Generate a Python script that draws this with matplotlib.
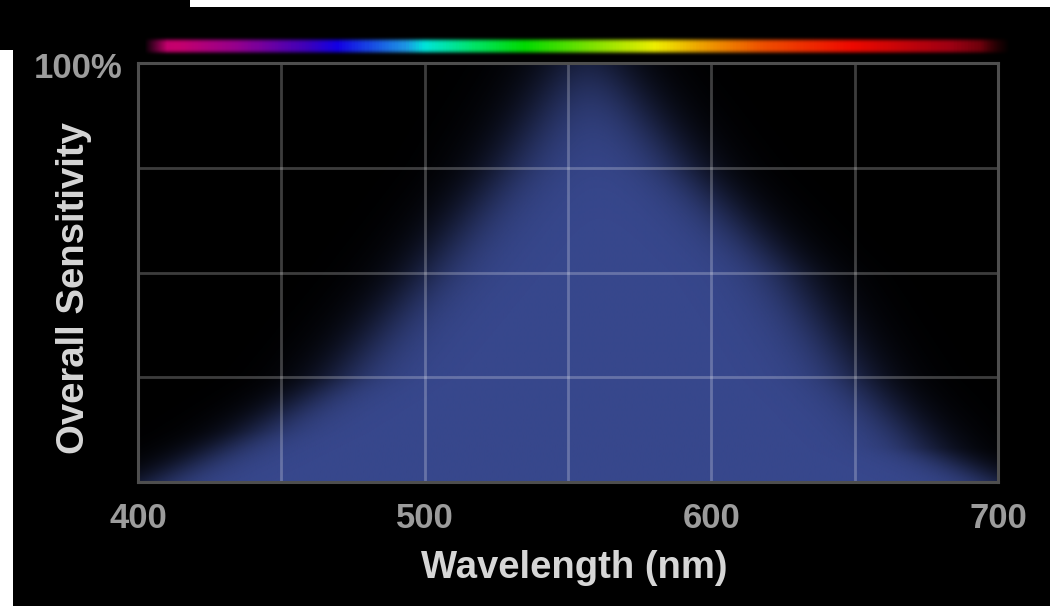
import numpy as np
import matplotlib
matplotlib.use("Agg")
import matplotlib.pyplot as plt
from matplotlib.colors import LinearSegmentedColormap
from matplotlib.patches import Rectangle

# sensitivity curve (edge of the blue glow)
wavelength = [405, 440, 470, 500, 528, 556, 591, 627, 651, 675, 700]
sensitivity = [0.0, 0.12, 0.25, 0.5, 0.75, 1.06, 0.75, 0.5, 0.25, 0.08, 0.0]

# spectrum bar colour stops (nm, colour)
spec_nm = [400, 411, 432, 457, 467, 491, 498, 516, 533, 561, 579, 596, 617, 648, 683, 700]
spec_col = ['#c0006e', '#c8006e', '#960090', '#3c00be', '#1400e6', '#1e96e6', '#00e6dc',
            '#00e664', '#00dc00', '#96e600', '#f0f000', '#f0a000', '#f05000', '#f00a00',
            '#a00014', '#500008']

x_ticks = [400, 500, 600, 700]
x_labels = ['400', '500', '600', '700']

W, H = 1050, 606
fig = plt.figure(figsize=(W / 100, H / 100), dpi=100, facecolor='black')

# main plot area
ax = fig.add_axes([138 / W, 1 - 482 / H, 860 / W, 419 / H])
ax.set_facecolor('black')
ax.set_xlim(400, 700)
ax.set_ylim(0, 1)

# blue glow under the curve
xs = np.linspace(400, 700, 700)
ys = np.linspace(0, 1, 420)
pk = int(np.argmax(sensitivity))
left_wl, left_s = wavelength[:pk + 1], sensitivity[:pk + 1]
right_wl, right_s = wavelength[pk:][::-1], sensitivity[pk:][::-1]
L = np.interp(ys, left_s, left_wl)
R = np.interp(ys, right_s, right_wl)
w = 8.5
X = xs[None, :]
alpha = 1 / (1 + np.exp(-(X - L[:, None]) / w)) * 1 / (1 + np.exp(-(R[:, None] - X) / w))
img = np.zeros((len(ys), len(xs), 4))
img[..., 0] = 56 / 255
img[..., 1] = 72 / 255
img[..., 2] = 142 / 255
img[..., 3] = alpha
ax.imshow(img, extent=[400, 700, 0, 1], origin='lower', aspect='auto', interpolation='bilinear', zorder=1)

# grid
for gx in [450, 500, 550, 600, 650]:
    ax.axvline(gx, color='white', alpha=0.24, lw=2, zorder=2)
for gy in [0.25, 0.5, 0.75]:
    ax.axhline(gy, color='white', alpha=0.24, lw=2, zorder=2)
for sp in ax.spines.values():
    sp.set_color('#4e4e4e')
    sp.set_linewidth(2.2)
ax.set_xticks([])
ax.set_yticks([])

# tick labels and texts
for t, lab in zip(x_ticks, x_labels):
    px = 138 + (t - 400) / 300 * 860
    fig.text(px / W, 1 - 518 / H, lab, color='#9c9c9c', fontsize=25, fontweight='bold',
             family='Liberation Sans', ha='center', va='center')
fig.text(122 / W, 1 - 68 / H, '100%', color='#9c9c9c', fontsize=25, fontweight='bold',
         family='Liberation Sans', ha='right', va='center')
fig.text(574 / W, 1 - 568 / H, 'Wavelength (nm)', color='#d6d6d6', fontsize=27.5,
         fontweight='bold', family='Liberation Sans', ha='center', va='center')
fig.text(74 / W, 1 - 288 / H, 'Overall Sensitivity', color='#d6d6d6', fontsize=27.5,
         fontweight='bold', family='Liberation Sans', ha='center', va='center', rotation=90)

# spectrum bar
bax = fig.add_axes([130 / W, 1 - 60 / H, 880 / W, 28 / H])
bax.set_xlim(395, 703)
bax.set_ylim(0, 1)
bax.axis('off')
pos = [(n - 400) / 300 for n in spec_nm]
cmap = LinearSegmentedColormap.from_list('spec', list(zip(pos, spec_col)))
bx = np.linspace(400, 703, 800)
by = np.linspace(0, 1, 60)
rgba = cmap(np.clip((bx - 400) / 300, 0, 1))
bar = np.repeat(rgba[None, :, :], len(by), axis=0)
va = np.exp(-((by - 0.5) / 0.25) ** 4)
ha = np.clip((bx - 400) / 8, 0, 1) * np.clip((703 - bx) / 10, 0, 1)
bar[..., 3] = va[:, None] * ha[None, :]
bax.imshow(bar, extent=[400, 703, 0, 1], origin='lower', aspect='auto', interpolation='bilinear')

# white edges of the scanned picture
fig.patches.append(Rectangle((190 / W, 1 - 7 / H), 860 / W, 7 / H, transform=fig.transFigure,
                             facecolor='white', edgecolor='none'))
fig.patches.append(Rectangle((0, 0), 13 / W, 1 - 50 / H, transform=fig.transFigure,
                             facecolor='white', edgecolor='none'))

fig.savefig('out.png', dpi=100, facecolor='black')
